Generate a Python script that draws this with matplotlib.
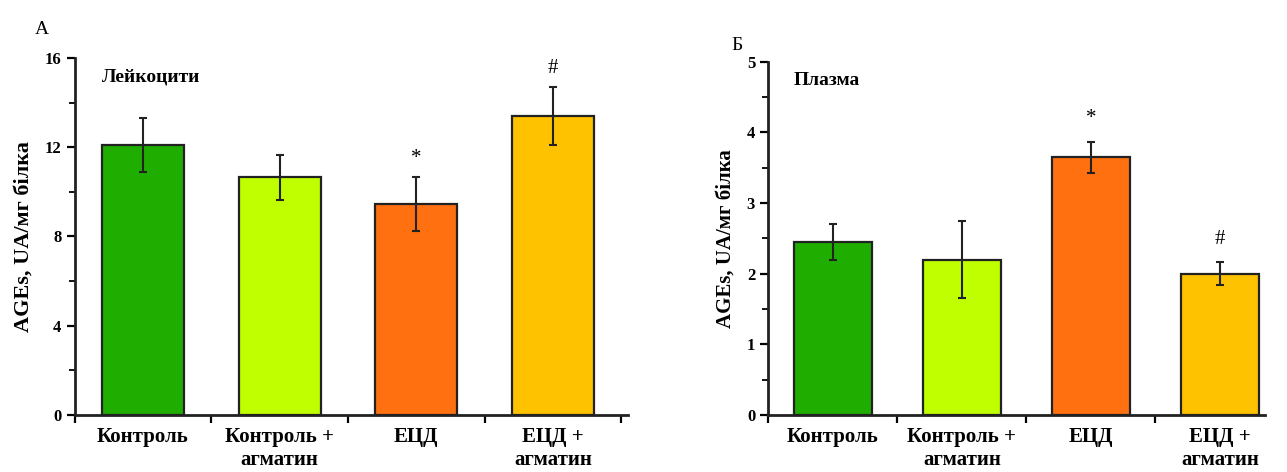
import matplotlib
matplotlib.use("Agg")
import matplotlib.pyplot as plt
from matplotlib.ticker import MultipleLocator, FixedLocator

plt.rcParams['font.family'] = ['Liberation Serif', 'DejaVu Serif']

groups = ['Контроль', 'Контроль +\nагматин', 'ЕЦД', 'ЕЦД +\nагматин']
colors = ['#1fae00', '#bfff00', '#ff7010', '#ffc200']

# Лейкоцити
leuk_mean = [12.1, 10.65, 9.45, 13.4]
leuk_err = [1.2, 1.0, 1.2, 1.3]
leuk_marks = ['', '', '*', '#']

# Плазма
plasma_mean = [2.45, 2.2, 3.65, 2.0]
plasma_err = [0.25, 0.55, 0.22, 0.16]
plasma_marks = ['', '', '*', '#']

fig = plt.figure(figsize=(12.87, 4.72), dpi=100)
ax1 = fig.add_axes([0.058, 0.121, 0.43, 0.756])
ax2 = fig.add_axes([0.597, 0.121, 0.386, 0.748])


def draw(ax, mean, err, marks, ymax, major, minor, title, xmax, mark_off, ylab_size):
    x = range(len(groups))
    ax.bar(x, mean, width=0.6, color=colors, edgecolor='#222222', linewidth=1.6, zorder=2)
    ax.errorbar(x, mean, yerr=err, fmt='none', ecolor='#222222', elinewidth=1.5,
                capsize=3, capthick=1.5, zorder=3)
    for i, m in enumerate(marks):
        if m:
            ax.text(i, mean[i] + err[i] + mark_off, m, ha='center', va='center',
                    fontsize=15)
    ax.set_xlim(-0.5, xmax)
    ax.set_ylim(0, ymax)
    ax.spines['top'].set_visible(False)
    ax.spines['right'].set_visible(False)
    ax.spines['left'].set_linewidth(2)
    ax.spines['bottom'].set_linewidth(2)
    ax.spines['left'].set_color('#222222')
    ax.spines['bottom'].set_color('#222222')
    ax.yaxis.set_major_locator(MultipleLocator(major))
    ax.yaxis.set_minor_locator(MultipleLocator(minor))
    ax.set_xticks(list(x))
    ax.set_xticklabels(groups, fontsize=15, fontweight='bold', linespacing=1.2)
    ax.xaxis.set_minor_locator(FixedLocator([-0.5, 0.5, 1.5, 2.5, 3.5]))
    ax.tick_params(axis='x', which='major', length=0, pad=9)
    ax.tick_params(axis='x', which='minor', length=6, width=1.6)
    ax.tick_params(axis='y', which='major', length=6, width=1.6, labelsize=12)
    ax.tick_params(axis='y', which='minor', length=4, width=1.3)
    for lab in ax.get_yticklabels():
        lab.set_fontweight('bold')
    ax.set_ylabel('AGEs, UA/мг білка', fontsize=ylab_size, fontweight='bold', labelpad=8)
    ax.text(0.05, 0.97, title, transform=ax.transAxes, ha='left', va='top',
            fontsize=14, fontweight='bold')


draw(ax1, leuk_mean, leuk_err, leuk_marks, 16, 4, 2, 'Лейкоцити', 3.55, 0.85, 16)
draw(ax2, plasma_mean, plasma_err, plasma_marks, 5, 1, 0.5, 'Плазма', 3.35, 0.33, 15)

fig.text(42 / 1287, 1 - 30 / 472, 'А', fontsize=14, ha='center', va='center')
fig.text(737 / 1287, 1 - 45 / 472, 'Б', fontsize=14, ha='center', va='center')

fig.savefig('out.png', dpi=100)
